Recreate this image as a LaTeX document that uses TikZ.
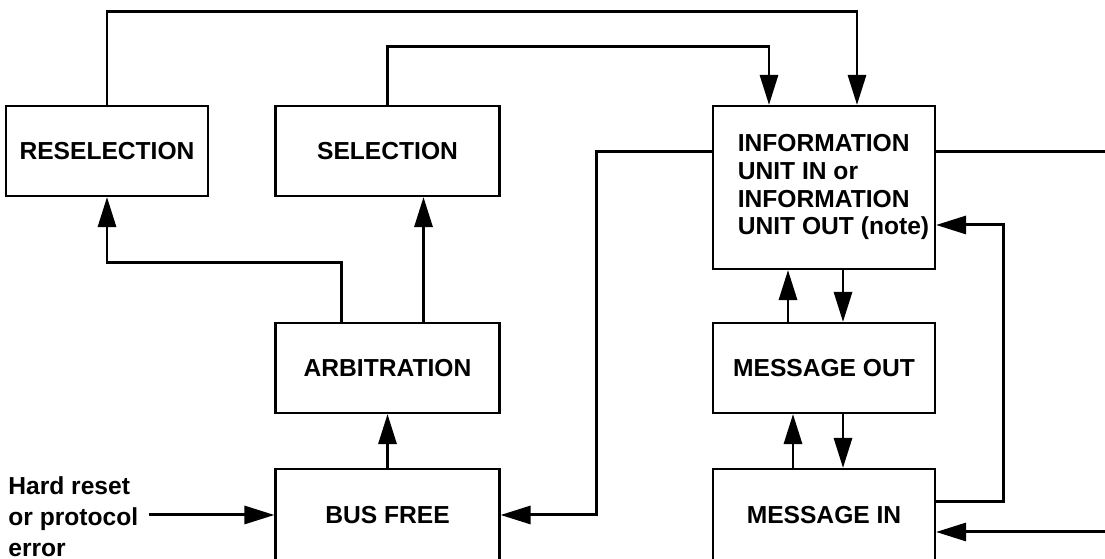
\documentclass[tikz,border=0pt]{standalone}
\usepackage{fontspec}
\setmainfont{Liberation Sans}
\usetikzlibrary{arrows.meta}

\begin{document}
\begin{tikzpicture}[
  box/.style={draw, line width=1.2pt, minimum width=4.44cm, minimum height=1.8cm,
    font=\fontsize{14}{15.9}\selectfont\bfseries},
  arr/.style={line width=1.7pt, -{Triangle[length=0.6cm, width=0.36cm]}},
  wire/.style={line width=1.7pt}
]
\useasboundingbox (0,0) rectangle (22.1,11.18);
\coordinate (rightedge) at (22.4,0);
% Left column
\node[box, minimum width=4.04cm] (resel) at (2.14,8.16) {RESELECTION};
\node[box, minimum width=4.48cm] (sel) at (7.75,8.16) {SELECTION};
\node[box, minimum width=4.48cm] (arb) at (7.75,3.82) {ARBITRATION};
\node[box, minimum width=4.48cm, minimum height=1.84cm] (busfree) at (7.75,0.88) {BUS FREE};
% Right column
\node[box, minimum height=3.26cm] (iu) at (16.48,7.43)
  {\begin{tabular}{@{\hspace{0.38cm}}l@{}}INFORMATION\\UNIT IN or\\INFORMATION\\UNIT OUT (note)\end{tabular}};
\node[box] (msgout) at (16.48,3.82) {MESSAGE OUT};
\node[box, minimum height=1.84cm] (msgin) at (16.48,0.88) {MESSAGE IN};
% Input label
\node[anchor=west, align=left, inner sep=0pt, font=\fontsize{14}{17.6}\selectfont\bfseries]
  (reset) at (0.16,0.85) {Hard reset\\or protocol\\error};
\draw[arr] ([xshift=0.2cm]reset.east |- busfree.west) -- (busfree.west);
% Bus free and arbitration
\draw[arr] (busfree.north) -- (arb.south);
\draw[arr] ([xshift=-0.92cm]arb.north) -- ++(0,1.18) -| (resel.south);
\draw[arr] ([xshift=0.72cm]arb.north) -- ([xshift=0.72cm]sel.south);
% Selection paths to information unit
\draw[arr] (resel.north) -- ++(0,1.86) -| ([xshift=0.66cm]iu.north);
\draw[arr] (sel.north) -- ++(0,1.16) -| ([xshift=-1.1cm]iu.north);
% Information unit back to bus free
\draw[arr] ([yshift=0.71cm]iu.west) -- ++(-2.3,0) |- (busfree.east);
\draw[wire] ([yshift=0.71cm]iu.east) -- ([yshift=0.71cm]iu.east -| rightedge);
% Message phases
\draw[arr] ([xshift=-0.72cm]msgout.north) -- ([xshift=-0.72cm]iu.south);
\draw[arr] ([xshift=0.38cm]iu.south) -- ([xshift=0.38cm]msgout.north);
\draw[arr] ([xshift=-0.62cm]msgin.north) -- ([xshift=-0.62cm]msgout.south);
\draw[arr] ([xshift=0.38cm]msgout.south) -- ([xshift=0.38cm]msgin.north);
\draw[arr] ([yshift=0.26cm]msgin.east) -- ++(1.34,0) |- ([yshift=-0.75cm]iu.east);
\draw[arr] ([yshift=-0.34cm]msgin.east -| rightedge) -- ([yshift=-0.34cm]msgin.east);
\end{tikzpicture}
\end{document}
